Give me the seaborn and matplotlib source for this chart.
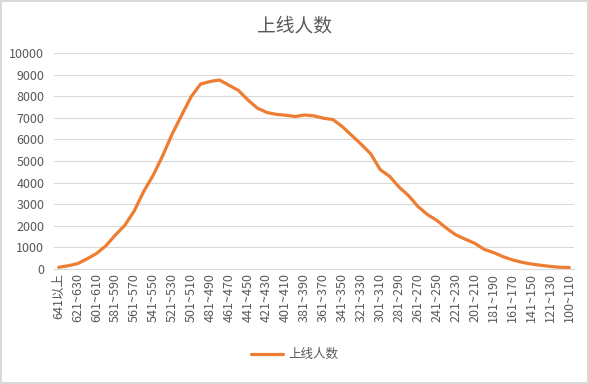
import numpy as np
import pandas as pd
import matplotlib
matplotlib.use('Agg')
import matplotlib.pyplot as plt
import seaborn as sns

# 分数段 (641以上, 631~640, ..., 111~120, 100~110)
categories = ['641以上'] + [f'{a}~{a + 9}' for a in range(631, 110, -10)] + ['100~110']

online_counts = [
    80, 150, 250, 470, 720, 1080, 1580, 2030, 2700, 3600,
    4350, 5250, 6250, 7120, 7970, 8560, 8680, 8750, 8510, 8270,
    7830, 7450, 7250, 7160, 7120, 7060, 7130, 7090, 6980, 6920,
    6590, 6180, 5770, 5330, 4600, 4290, 3790, 3400, 2890, 2520,
    2250, 1890, 1580, 1380, 1190, 910, 760, 570, 420, 310,
    230, 170, 120, 80, 70,
]

series_name = '上线人数'
y_ticks = list(range(0, 10001, 1000))

df = pd.DataFrame({'分数段': categories, series_name: online_counts})
df['pos'] = np.arange(len(df))

sns.set_theme(style='white')
plt.rcParams['font.family'] = ['Noto Sans CJK SC', 'DejaVu Sans']

text_color = '#595959'
grid_color = '#D9D9D9'
line_color = '#ED7D31'

fig = plt.figure(figsize=(5.89, 3.84), dpi=100)
fig.patch.set_edgecolor(grid_color)
fig.patch.set_linewidth(1.5)
ax = fig.add_axes([54 / 589, 115 / 384, 520 / 589, 216 / 384])

sns.lineplot(data=df, x='pos', y=series_name, ax=ax, color=line_color,
             linewidth=2.3, label=series_name, legend=False)
ax.lines[0].set_solid_joinstyle('round')
ax.lines[0].set_solid_capstyle('round')

ax.set_xlim(-0.5, len(df) - 0.5)
ax.set_ylim(0, 10000)
ax.set_yticks(y_ticks)
ax.set_yticklabels([str(v) for v in y_ticks], fontsize=9, color=text_color)
ax.set_xticks(df['pos'][::2])
ax.set_xticklabels(df['分数段'][::2], rotation=90, fontsize=9, color=text_color)
ax.tick_params(axis='both', length=0, pad=3)
ax.tick_params(axis='y', pad=7)
ax.set_xlabel('')
ax.set_ylabel('')

ax.grid(axis='y', color=grid_color, linewidth=0.8)
ax.set_axisbelow(True)
for side in ['top', 'right', 'left']:
    ax.spines[side].set_visible(False)
ax.spines['bottom'].set_color(grid_color)
ax.spines['bottom'].set_linewidth(0.8)

fig.suptitle(series_name, y=0.96, fontsize=13.5, color=text_color)

handles, labels = ax.get_legend_handles_labels()
fig.legend(handles, labels, loc='center', bbox_to_anchor=(0.5, 0.076),
           frameon=False, fontsize=9, labelcolor=text_color,
           handlelength=2.6, handletextpad=0.4)

fig.savefig('out.png', dpi=100, facecolor=fig.get_facecolor(),
            edgecolor=fig.get_edgecolor())
